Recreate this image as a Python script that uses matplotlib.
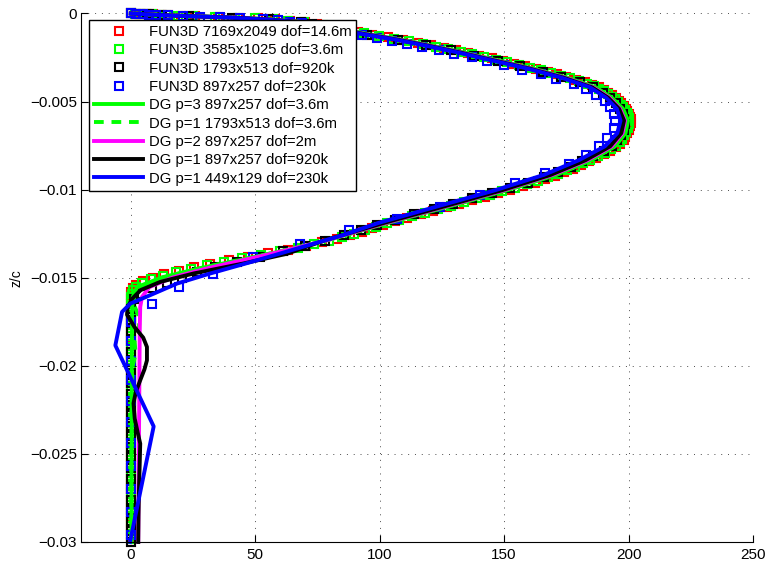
import matplotlib
matplotlib.use("Agg")
import matplotlib.pyplot as plt
import numpy as np

plt.rcParams['font.family'] = ['Liberation Sans', 'DejaVu Sans']

# ---------------- data (z in units of 1e-3 z/c) ----------------
# FUN3D 7169x2049 (red squares)
Z_RED = [0, -0.01, -0.02, -0.035, -0.05, -0.07, -0.09, -0.12, -0.15, -0.19, -0.23, -0.28, -0.34, -0.41, -0.49,
         -0.6, -0.75, -0.9, -1.05, -1.2, -1.35, -1.5, -1.65, -1.8, -1.95, -2.1, -2.25, -2.4, -2.55, -2.7, -2.85,
         -3.0, -3.15, -3.3, -3.45, -3.6, -3.75, -3.9, -4.05, -4.2, -4.35, -4.5, -4.65, -4.8, -4.95, -5.1, -5.25,
         -5.4, -5.55, -5.7, -5.85, -6.0,
         -6.2, -6.4, -6.6, -6.8, -7.0, -7.2, -7.4, -7.6, -7.8, -8.0, -8.2, -8.4, -8.6, -8.8, -9.0, -9.2, -9.4,
         -9.6, -9.8, -10.0, -10.2, -10.4, -10.6, -10.8, -11.0, -11.2, -11.4, -11.6, -11.8, -12.0, -12.2, -12.4,
         -12.6, -12.8, -13.0, -13.2, -13.4, -13.6, -13.8, -14.0, -14.2, -14.4, -14.6, -14.8, -15.0, -15.2, -15.4,
         -15.6, -15.8, -16.0, -16.2,
         -16.5, -16.8, -17.1, -17.4, -17.7, -18.0, -18.3, -18.6, -18.9, -19.2, -19.5, -19.8, -20.1, -20.4, -20.7,
         -21.0, -21.3, -21.6, -21.9, -22.2, -22.5, -22.8, -23.1, -23.4, -23.7, -24.0, -24.3, -24.6, -24.9, -25.2,
         -25.5, -25.8, -26.1, -26.4, -26.7, -27.0, -27.3, -27.6, -27.9, -28.2, -28.5, -28.8, -29.1, -29.4, -29.7,
         -30.0]
X_RED = [0, 2, 4, 6.5, 9, 12, 15, 20, 26, 35, 43, 51, 58, 64, 70,
         75, 80.7, 86, 91.2, 97, 103.2, 109.5, 115.3, 120.5, 125.7, 130.5, 135.5, 140, 145, 149.5, 154,
         158.5, 163, 167.5, 171.3, 175, 178.8, 182.5, 185.5, 188, 190, 191.9, 193.5, 194.8, 196, 197.1, 198.1,
         198.9, 199.5, 200, 200.4, 200.8,
         200.8, 200.5, 200, 199.5, 198.5, 198, 196.5, 194.8, 192.5, 190, 186.8, 184, 180.8, 177.5, 174, 170.5,
         166.5, 162.3, 157.5, 152.5, 147.5, 142.5, 137, 132, 127, 121.5, 116.5, 111, 106, 101.5, 97, 93,
         88, 83, 77, 70.5, 63, 55, 47, 39.5, 32, 25.5, 19.5, 13.5, 9, 5, 2,
         0.7, 0.2, 0.1, 0,
         0, 0, 0, 0, 0, 0, 0, 0, 0, 0, 0, 0, 0, 0, 0,
         0, 0, 0, 0, 0, 0, 0, 0, 0, 0, 0, 0, 0, 0, 0,
         0, 0, 0, 0, 0, 0, 0, 0, 0, 0, 0, 0, 0, 0, 0,
         0]

# FUN3D 3585x1025 (green squares)
Z_GREEN = [0, -0.01, -0.02, -0.035, -0.05, -0.07, -0.09, -0.12, -0.15, -0.19, -0.23, -0.28, -0.34, -0.41, -0.49,
           -0.675, -0.825, -0.975, -1.125, -1.275, -1.425, -1.575, -1.725, -1.875, -2.025, -2.175, -2.325,
           -2.475, -2.625, -2.775, -2.925, -3.075, -3.225, -3.375, -3.525, -3.675, -3.825, -3.975, -4.125,
           -4.275, -4.425, -4.575, -4.725, -4.875, -5.025, -5.175, -5.325, -5.475, -5.625, -5.775, -5.925,
           -6.1, -6.3, -6.5, -6.7, -6.9, -7.1, -7.3, -7.5, -7.7, -7.9, -8.1, -8.3, -8.5, -8.7, -8.9, -9.1,
           -9.3, -9.5, -9.7, -9.9, -10.1, -10.3, -10.5, -10.7, -10.9, -11.1, -11.3, -11.5, -11.7, -11.9,
           -12.1, -12.3, -12.5, -12.7, -12.9, -13.1, -13.3, -13.5, -13.7, -13.9, -14.1, -14.3, -14.5, -14.7,
           -14.9, -15.1, -15.3, -15.5, -15.7, -15.9, -16.1,
           -16.35, -16.65, -16.95, -17.25, -17.55, -17.85, -18.15, -18.45, -18.75, -19.05, -19.35, -19.65,
           -19.95, -20.25, -20.55, -20.85, -21.15, -21.45, -21.75, -22.05, -22.35, -22.65, -22.95, -23.25,
           -23.55, -23.85, -24.15, -24.45, -24.75, -25.05, -25.35, -25.65, -25.95, -26.25, -26.55, -26.85,
           -27.15, -27.45, -27.75, -28.05, -28.35, -28.65, -28.95, -29.25, -29.55, -29.85]
X_GREEN = [0, 1.8, 3.6, 6, 8.5, 11.2, 14, 19, 25, 34, 42, 50, 57, 63, 69.5,
           77.4, 82.9, 88.1, 93.6, 99.6, 105.9, 111.9, 117.4, 122.6, 127.6, 132.5, 137.3, 142, 146.8, 151.3,
           155.8, 160.3, 164.8, 168.9, 172.7, 176.4, 180.2, 183.4, 186.1, 188.3, 190.2, 191.9, 193.4, 194.7,
           195.9, 197, 197.9, 198.6, 199.2, 199.7, 200.1,
           200.1, 200, 199.6, 199.1, 198.3, 197.3, 196.6, 195, 193, 190.6, 187.7, 184.7, 181.7, 178.5, 175.1,
           171.6, 167.8, 163.7, 159.2, 154.3, 149.3, 144.3, 139.1, 133.8, 128.8, 123.6, 118.3, 113.1, 107.8,
           103.1, 98.6, 94.3, 89.8, 84.8, 79.8, 73.8, 67, 59.8, 52.3, 44.8, 37.5, 30.5, 24.3, 18.3, 12.8, 8.3,
           4.5, 2, 0.8, 0.3, 0.2,
           0, 0, 0, 0, 0, 0, 0, 0, 0, 0, 0, 0, 0, 0, 0, 0, 0, 0, 0, 0, 0, 0, 0,
           0, 0, 0, 0, 0, 0, 0, 0, 0, 0, 0, 0, 0, 0, 0, 0, 0, 0, 0, 0, 0, 0, 0]

# FUN3D 1793x513 (black squares)
Z_BLACK = [0, -0.02, -0.05, -0.09, -0.15, -0.23, -0.34, -0.49,
           -0.6, -0.9, -1.2, -1.5, -1.8, -2.1, -2.4, -2.7, -3.0, -3.3, -3.6, -3.9, -4.2, -4.5, -4.8, -5.1,
           -5.4, -5.7, -6.0,
           -6.3, -6.6, -6.9, -7.2, -7.5, -7.8, -8.1, -8.4, -8.7, -9.0, -9.3, -9.6, -9.9, -10.2, -10.5, -10.8,
           -11.1, -11.4, -11.7, -12.0, -12.3, -12.6, -12.9, -13.2, -13.5, -13.8, -14.1, -14.4, -14.7, -15.0,
           -15.3, -15.6, -15.9, -16.2,
           -16.8, -17.4, -18.0, -18.6, -19.2, -19.8, -20.4, -21.0, -21.6, -22.2, -22.8, -23.4, -24.0, -24.6,
           -25.2, -25.8, -26.4, -27.0, -27.6, -28.2, -28.8, -29.4, -30.0]
X_BLACK = [0, 3.2, 7.2, 12.5, 23.5, 40.5, 55.5, 68.5,
           73, 84, 95, 107.5, 118.5, 128.5, 138, 147.5, 156.5, 165.5, 173, 180.5, 185.8, 189.6, 192.5, 194.8,
           196.5, 197.6, 198.3,
           198.7, 198, 197, 195.5, 193.2, 190, 185.9, 181.5, 176.7, 171.5, 166, 159.8, 152.5, 145, 137.3,
           129.5, 121.8, 114, 106, 99, 92.5, 85.5, 78, 70, 61.3, 52, 42.8, 34, 26.8, 20.5, 14.5, 8.5, 4, 1.2,
           0, 0, 0, 0, 0, 0, 0, 0, 0, 0, 0, 0, 0, 0, 0, 0, 0, 0, 0, 0, 0, 0, 0]

# FUN3D 897x257 (blue squares)
Z_BLUE = [0, -0.02, -0.04, -0.06, -0.08, -0.11, -0.14, -0.18, -0.22, -0.27, -0.33, -0.39, -0.46, -0.54,
          -0.63, -0.73, -0.84, -0.96, -1.09, -1.23, -1.38, -1.54, -1.71, -1.89, -2.08, -2.28, -2.49, -2.71,
          -2.94, -3.18, -3.44, -3.71, -4.00, -4.30, -4.62, -4.96, -5.32, -5.70, -6.10, -6.52, -7.09, -7.53,
          -8.04, -8.55, -9.08, -9.65, -10.31, -10.98, -11.64, -12.30, -13.06, -13.82, -14.76, -15.52,
          -16.47, -17.5, -18.6, -19.7, -20.8, -22.0, -23.2, -24.4, -25.7, -27.0, -28.3, -29.6]
X_BLUE = [0, 2, 5, 7.5, 10, 15, 21, 28, 36, 44, 53, 59, 64, 69, 73, 76, 80, 84, 88, 93, 99, 105, 111, 117,
          124, 130, 137, 143, 150, 157, 165, 171, 178, 183, 187, 190.5, 192.5, 194, 194.5, 194, 191.5, 188,
          183, 176, 166.5, 154.4, 140.4, 124.3, 106.9, 87.8, 68.1, 49.3, 32.9, 19.2, 8.5,
          0, 0, 0, 0, 0, 0, 0, 0, 0, 0, 0]

# DG lines
Z_DG3 = [0, -0.02, -0.05, -0.09, -0.15, -0.23, -0.34, -0.49, -0.68, -0.91, -1.18, -1.49, -1.84, -2.23,
         -2.66, -3.13, -3.64, -4.19, -4.78, -5.41, -6.08, -6.79, -7.54, -8.33, -9.16, -10.03, -10.94,
         -11.89, -12.88, -13.39, -13.91, -14.44, -14.98, -15.53, -16.09, -17.0, -18.0, -20.0, -22.0,
         -24.0, -26.0, -28.0, -30.0]
X_DG3 = [0, 3.5, 8.3, 13.8, 24.8, 41.8, 56.8, 69.3, 77.8, 85.8, 95.8, 108.8, 121.3, 134.3, 147.3, 161.8,
         175.3, 186.8, 193.3, 197.8, 199.8, 198.8, 194.6, 185.1, 171.1, 151.3, 128.3, 103.3, 78.8, 63.8,
         46.8, 28.5, 12.5, 2.5, 0.8, 0.5, 0.5, 0.4, 0.4, 0.4, 0.3, 0.3, 0.3]

Z_DG1F = [0, -0.02, -0.05, -0.09, -0.15, -0.23, -0.34, -0.49, -0.68, -0.91, -1.18, -1.49, -1.84, -2.23,
          -2.66, -3.13, -3.64, -4.19, -4.78, -5.41, -6.08, -6.79, -7.54, -8.33, -9.16, -10.03, -10.94,
          -11.89, -12.88, -13.39, -13.91, -14.44, -14.98, -15.53, -16.09, -16.6, -17.3, -18.0, -18.6,
          -19.3, -20.0, -21.0, -22.5, -24.0, -26.0, -28.0, -30.0]
X_DG1F = [0, 3.4, 8.2, 13.6, 24.5, 41.5, 56.5, 69, 77.5, 85.5, 95.5, 108.5, 121, 134, 147, 161.5, 175,
          186.5, 193, 197.5, 199.5, 198.5, 194.3, 184.8, 170.8, 151, 128, 103, 78.5, 63.5, 46.5, 28.5, 13,
          3.5, 1.2, 1.5, 3.5, 3.2, 1.5, 2.0, 0.8, 0.5, 0.3, 0.3, 0.2, 0.2, 0.2]

Z_DG2 = [0, -0.02, -0.05, -0.09, -0.15, -0.23, -0.34, -0.49, -0.68, -0.91, -1.18, -1.49, -1.84, -2.23,
         -2.66, -3.13, -3.64, -4.19, -4.78, -5.41, -6.08, -6.79, -7.54, -8.33, -9.16, -10.03, -10.94,
         -11.89, -12.88, -13.39, -13.91, -14.44, -14.98, -15.53, -16.09, -16.66, -18.0, -20.0, -22.0,
         -24.0, -26.0, -28.0, -30.0]
X_DG2 = [0, 3.3, 7.8, 13, 23.8, 40.8, 55.8, 68.8, 76.8, 84.8, 94.8, 107.8, 120.3, 133.3, 146.3, 160.8,
         174.3, 185.8, 192.3, 196.6, 198.6, 197.6, 193.3, 183.5, 169.5, 150, 127, 102.5, 78.5, 64, 48,
         31.5, 17, 7.5, 4.5, 3.8, 3.6, 3.5, 3.4, 3.3, 3.2, 3.1, 3.0]

Z_DG1B = [0, -0.02, -0.05, -0.09, -0.15, -0.23, -0.34, -0.49, -0.68, -0.91, -1.18, -1.49, -1.84, -2.23,
          -2.66, -3.13, -3.64, -4.19, -4.78, -5.41, -6.08, -6.79, -7.54, -8.33, -9.16, -10.03, -10.94,
          -11.89, -12.88, -13.63, -14.19, -14.76, -15.24, -15.7, -16.2, -16.66, -17.1, -17.8, -18.4,
          -18.93, -19.69, -20.2, -20.82, -21.5, -22.13, -23.0, -23.8, -24.42, -25.5, -27.0, -28.5, -30.0]
X_DG1B = [0, 3.1, 7.1, 12.3, 23.3, 40.3, 55.3, 68.3, 76.3, 84.3, 94.3, 107.3, 119.8, 132.8, 145.8, 160.3,
          173.8, 185.3, 191.8, 196.2, 198.2, 197.1, 192.6, 182.7, 168.7, 149.2, 126.2, 101.7, 77.8, 63,
          45.3, 25.2, 11.8, 4, 0.5, -1.2, -1.5, 1.5, 5, 6.5, 6.5, 5.5, 3.8, 2, 1.1, 1.6, 2.8, 3.8, 3.6,
          3.3, 3.1, 3.0]

Z_DG1C = [0, -0.02, -0.05, -0.09, -0.15, -0.23, -0.34, -0.49, -0.68, -0.91, -1.18, -1.49, -1.84, -2.23,
          -2.66, -3.13, -3.64, -4.19, -4.78, -5.41, -6.08, -6.79, -7.54, -8.33, -9.16, -10.03, -10.94,
          -11.89, -12.59, -13.44, -14.1, -14.76, -15.33, -15.99, -16.47, -16.94, -18.84, -23.44, -30.0]
X_DG1C = [0, 2.8, 6.8, 11.5, 22.5, 39.5, 54.5, 67.5, 75.5, 83.5, 93.5, 106.5, 119, 132, 145, 159.5, 173,
          184.5, 191, 195.3, 196.8, 195.5, 190.5, 180, 166, 146.5, 123.5, 99.5, 85, 64.5, 48.5, 31.9,
          18.6, 7.8, -0.2, -3.5, -6.2, 9.2, -0.3]

LABELS = ['FUN3D 7169x2049 dof=14.6m', 'FUN3D 3585x1025 dof=3.6m', 'FUN3D 1793x513 dof=920k',
          'FUN3D 897x257 dof=230k', 'DG p=3 897x257 dof=3.6m', 'DG p=1 1793x513 dof=3.6m',
          'DG p=2 897x257 dof=2m', 'DG p=1 897x257 dof=920k', 'DG p=1 449x129 dof=230k']
XTICKS = [0, 50, 100, 150, 200, 250]
YTICKS = [0, -0.005, -0.01, -0.015, -0.02, -0.025, -0.03]
YTICKLABELS = ['0', '\u22120.005', '\u22120.01', '\u22120.015', '\u22120.02', '\u22120.025', '\u22120.03']

# ---------------- figure ----------------
fig = plt.figure(figsize=(7.67, 5.69), dpi=100)
ax = fig.add_axes([0.1056, 0.0475, 0.8761, 0.9288])

def zc(zm):
    return np.asarray(zm) * 1e-3

mk = dict(linestyle='none', marker='s', markersize=6, markeredgewidth=1.5,
          markerfacecolor='none', clip_on=False)
ax.plot(X_RED, zc(Z_RED), markeredgecolor='#ff0000', label=LABELS[0], **mk)
ax.plot(X_GREEN, zc(Z_GREEN), markeredgecolor='#00ff00', label=LABELS[1], **mk)
ax.plot(X_BLACK, zc(Z_BLACK), markeredgecolor='#000000', label=LABELS[2], **mk)
ax.plot(X_BLUE, zc(Z_BLUE), markeredgecolor='#0000ff', label=LABELS[3], **mk)

lw = 2.8
ax.plot(X_DG3, zc(Z_DG3), color='#00ff00', lw=lw, label=LABELS[4], clip_on=False)
ax.plot(X_DG1F, zc(Z_DG1F), color='#00ff00', lw=lw, dashes=(2.5, 2.0), label=LABELS[5], clip_on=False)
ax.plot(X_DG2, zc(Z_DG2), color='#ff00ff', lw=lw, label=LABELS[6], clip_on=False)
ax.plot(X_DG1B, zc(Z_DG1B), color='#000000', lw=lw, label=LABELS[7], clip_on=False)
ax.plot(X_DG1C, zc(Z_DG1C), color='#0000ff', lw=lw, label=LABELS[8], clip_on=False)

ax.set_xlim(-20, 250)
ax.set_ylim(-0.03, 0)
ax.set_xticks(XTICKS)
ax.set_xticklabels([str(v) for v in XTICKS])
ax.set_yticks(YTICKS)
ax.set_yticklabels(YTICKLABELS)

for s in ['top', 'right']:
    ax.spines[s].set_visible(False)
for s in ['left', 'bottom']:
    ax.spines[s].set_linewidth(0.8)
ax.tick_params(direction='in', length=5, width=0.8, labelsize=11)
ax.tick_params(axis='x', pad=4.5)
ax.tick_params(axis='y', pad=3)

ax.set_axisbelow(True)
ax.grid(True, color='0.3', linewidth=0.7, linestyle=(0, (1, 6)))

ax.set_ylabel('z/c', fontsize=10)
ax.yaxis.set_label_coords(-0.086, 0.5)

leg = ax.legend(loc='upper left', bbox_to_anchor=(0.012, 0.988), borderaxespad=0,
                fontsize=10.7, numpoints=1, handlelength=3.3, handletextpad=0.35,
                labelspacing=0.29, borderpad=0.35, fancybox=False, framealpha=1,
                edgecolor='black')
leg.get_frame().set_linewidth(1.0)
leg.set_zorder(10)

fig.savefig('out.png', dpi=100)
